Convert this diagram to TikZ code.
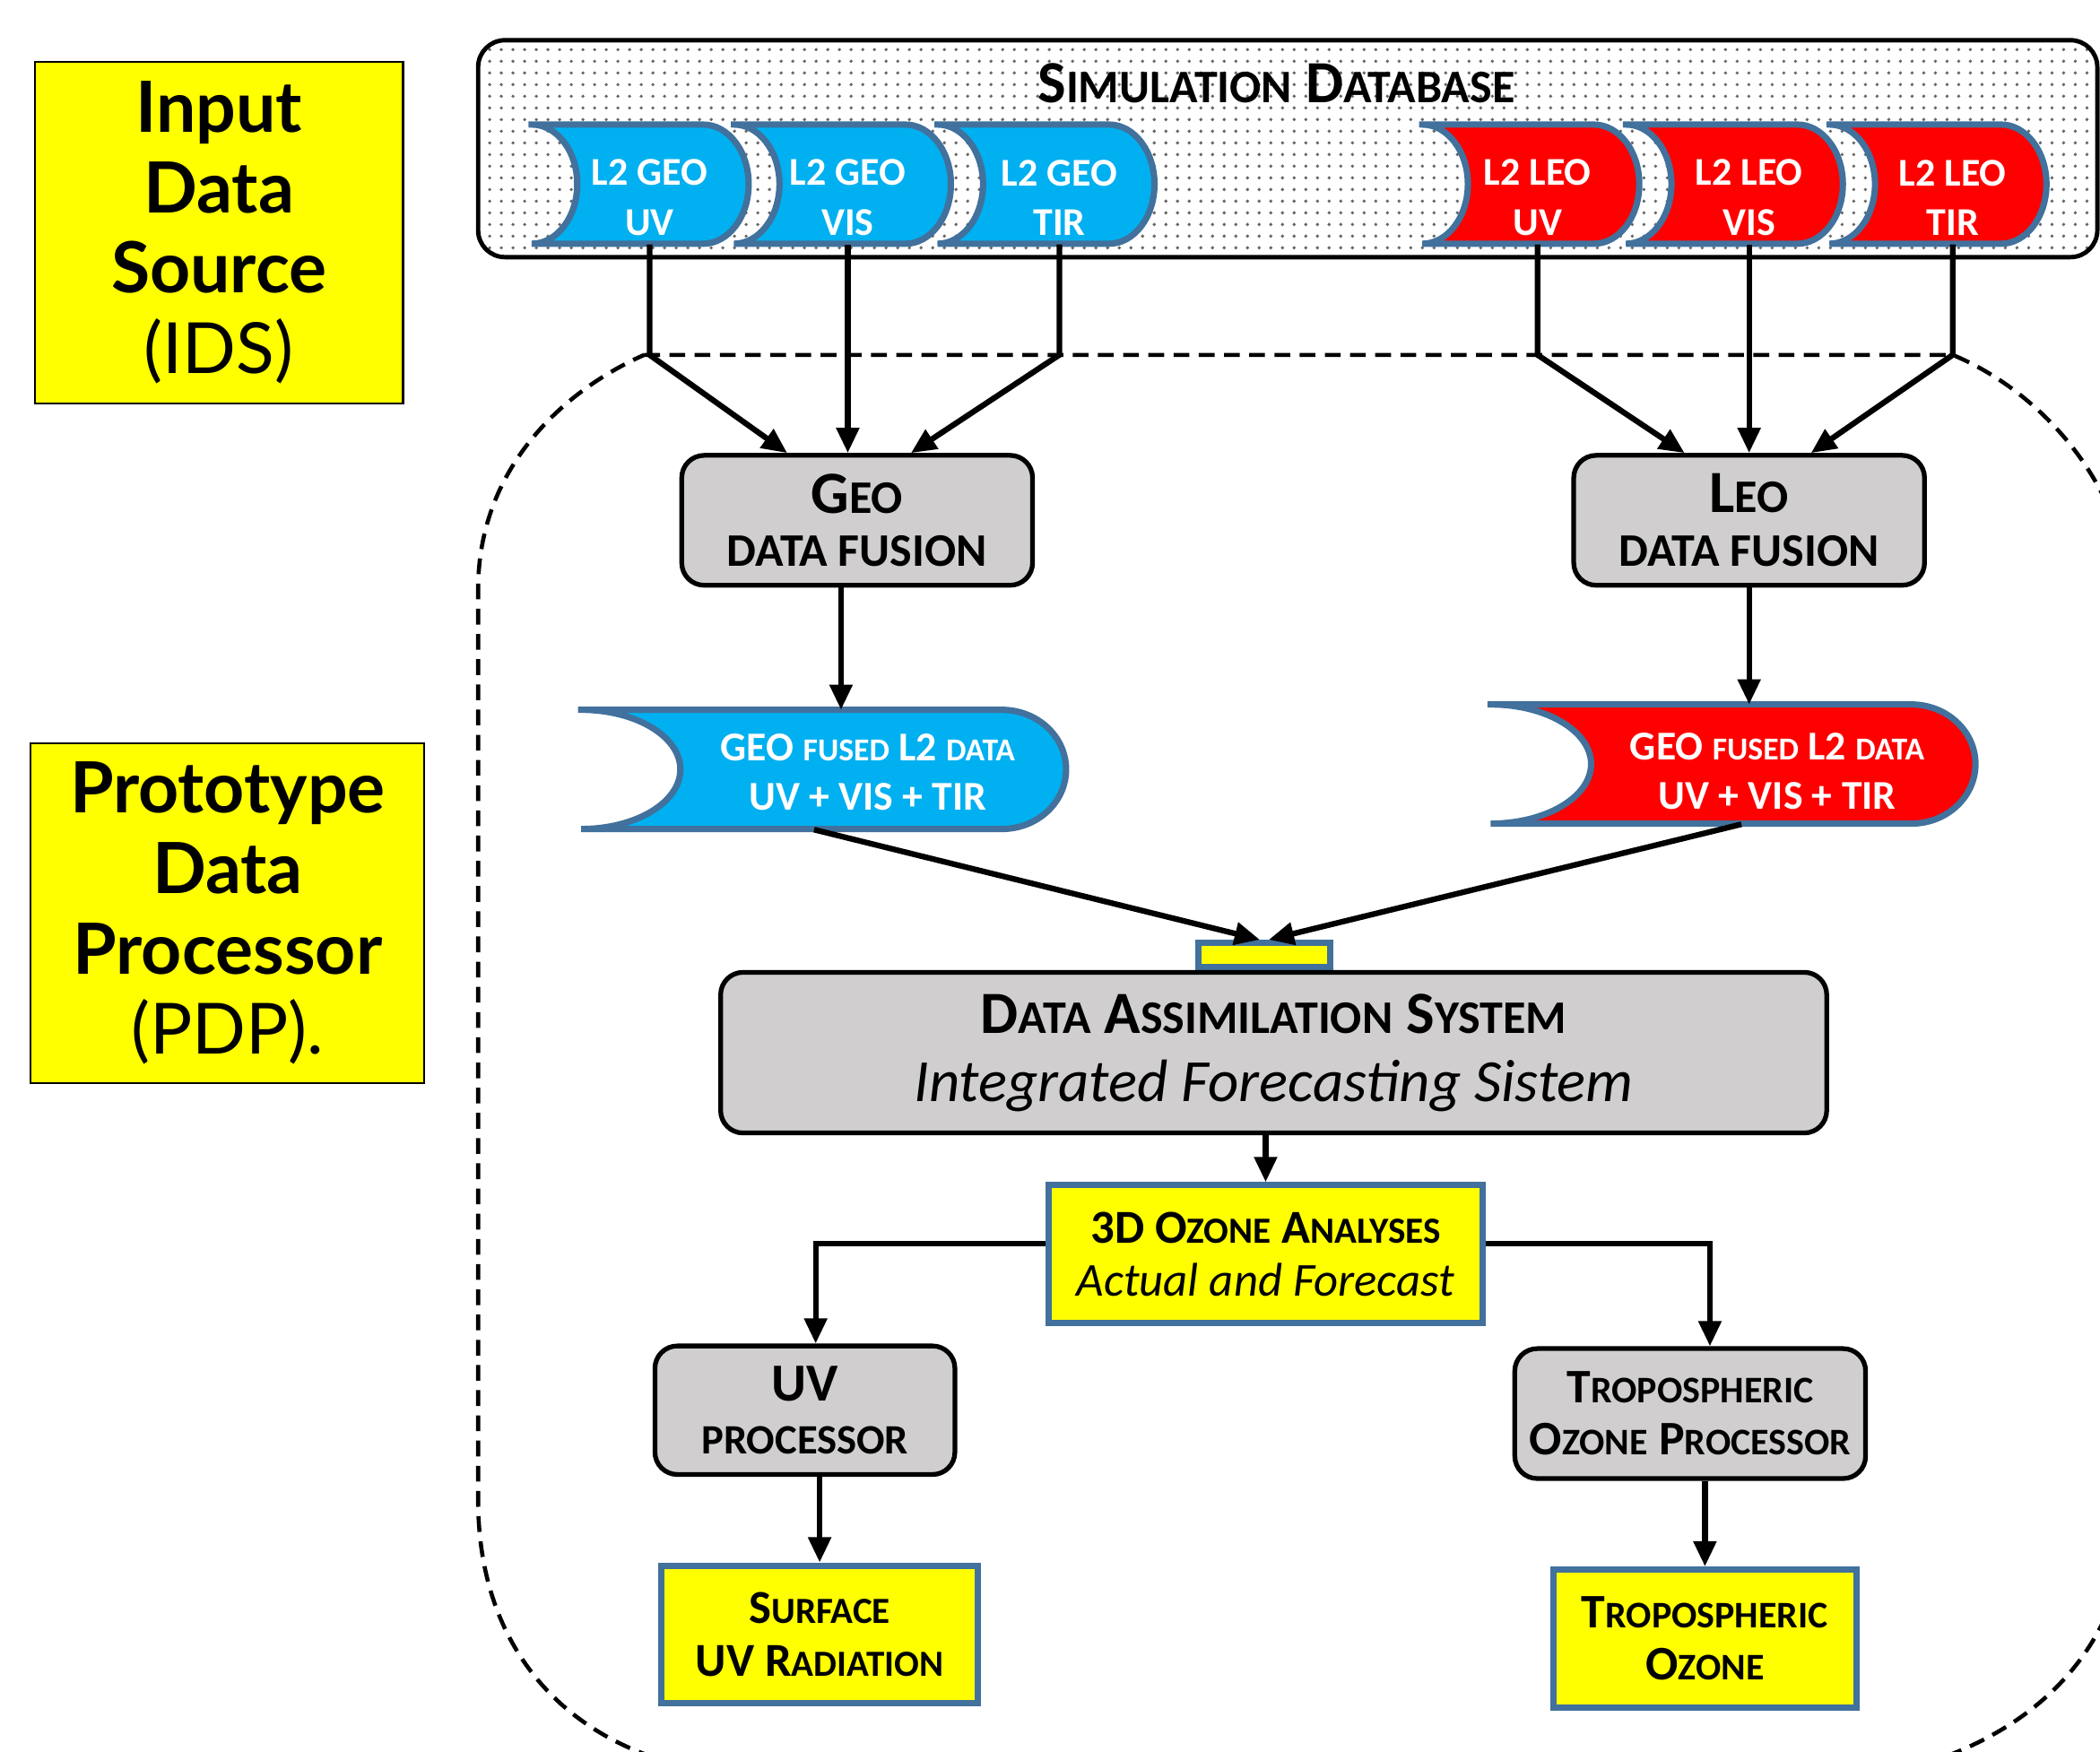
\documentclass[tikz,border=0pt]{standalone}
\usepackage{fontspec}
\setmainfont{Carlito}
\newfontfamily\gillfont{Lato}
\usepackage{graphicx}
\usetikzlibrary{arrows.meta,patterns}

\definecolor{geoblue}{HTML}{00B0F0}
\definecolor{leored}{HTML}{FF0000}
\definecolor{edgeblue}{HTML}{41719C}
\definecolor{boxgray}{HTML}{D0CECE}
\definecolor{noteyellow}{HTML}{FFFF00}

% fake small capitals
\newcommand{\sm}[1]{\scalebox{0.78}{#1}}

% sparser dots than the library pattern
\pgfdeclarepatternformonly{sparsedots}{\pgfqpoint{-1pt}{-1pt}}{\pgfqpoint{1pt}{1pt}}{\pgfqpoint{3.7pt}{3.7pt}}{\pgfpathcircle{\pgfqpoint{0pt}{0pt}}{.55pt}\pgfusepath{fill}}

\tikzset{
  sidebox/.style={draw=black, line width=0.6pt, fill=noteyellow, align=center, inner sep=0pt, font=\gillfont\fontsize{22.4}{25.5}\selectfont},
  graybox/.style={draw=black, line width=1.5pt, fill=boxgray, rounded corners=0.25cm, align=center, inner sep=0pt},
  yellowbox/.style={draw=edgeblue, line width=2pt, fill=noteyellow, align=center, inner sep=0pt},
  store/.style={draw=edgeblue, line width=2pt},
  storetext/.style={text=white, align=center, inner sep=0pt, font=\bfseries\fontsize{12.5}{15.7}\selectfont},
  conn/.style={line width=1.8pt, -{Triangle[length=8pt,width=7pt]}},
  pdpline/.style={line width=1.3pt, dash pattern=on 5pt off 3pt},
}

\begin{document}
\begin{tikzpicture}[x=0.014936cm, y=-0.014936cm]
\useasboundingbox (0,0) rectangle (1568,1308);

% side labels
\node[sidebox, minimum width=4.107cm, minimum height=3.809cm] (ids) at (163.5,173.5) {\textbf{Input}\\\textbf{Data}\\\textbf{Source}\\(IDS)};
\node[sidebox, minimum width=4.391cm, minimum height=3.794cm] (pdp) at (170,682) {\textbf{Prototype}\\\textbf{Data}\\\textbf{Processor}\\(PDP).};

% simulation database
\draw[line width=1.4pt, rounded corners=0.3cm, pattern=sparsedots, pattern color=black!60] (357,30) rectangle (1566,192);
\node[font=\bfseries\fontsize{19}{22}\selectfont] (simdb) at (953,62) {S\sm{IMULATION} D\sm{ATABASE}};

% L2 products
\foreach \xa/\xt/\col/\nm/\txt in {397/485/geoblue/guv/{L2 GEO\\UV}, 548/633/geoblue/gvis/{L2 GEO\\VIS}, 700/791/geoblue/gtir/{L2 GEO\\TIR}, 1062/1148/leored/luv/{L2 LEO\\UV}, 1214/1306/leored/lvis/{L2 LEO\\VIS}, 1366/1458/leored/ltir/{L2 LEO\\TIR}}{
  \draw[store, fill=\col] (\xa,93) -- ++(128,0) arc[start angle=-90, end angle=90, x radius=34, y radius=44.5] -- (\xa,182) arc[start angle=90, end angle=-90, x radius=34, y radius=44.5] -- cycle;
  \node[storetext, minimum height=1.031cm] (\nm) at (\xt,147.5) {\txt};
}

% dashed outline of the PDP
\coordinate (pdpnw) at (481,265);
\coordinate (pdpne) at (1458,265);
\draw[pdpline] (pdpnw) -- (pdpne) .. controls (1530,295) and (1590,370) .. (1590,450) -- (1590,1120) .. controls (1590,1230) and (1520,1290) .. (1440,1316) -- (500,1316) .. controls (410,1290) and (357,1220) .. (357,1120) -- (357,440) .. controls (357,350) and (420,292) .. (pdpnw);

% data fusion
\node[graybox, minimum width=3.913cm, minimum height=1.449cm, font=\bfseries\fontsize{19}{17}\selectfont] (geofus) at (640,388.5) {G\sm{EO}\\\sm{DATA FUSION}};
\node[graybox, minimum width=3.913cm, minimum height=1.449cm, font=\bfseries\fontsize{19}{17}\selectfont] (leofus) at (1306,388.5) {L\sm{EO}\\\sm{DATA FUSION}};

\draw[conn] (guv.south) -- (guv.south |- pdpnw) -- ([xshift=-0.78cm]geofus.north);
\draw[conn] (gvis.south) -- (gvis.south |- geofus.north);
\draw[conn] (gtir.south) -- (gtir.south |- pdpnw) -- ([xshift=0.6cm]geofus.north);
\draw[conn] (luv.south) -- (luv.south |- pdpne) -- ([xshift=-0.72cm]leofus.north);
\draw[conn] (lvis.south) -- (lvis.south |- leofus.north);
\draw[conn] (ltir.south) -- (pdpne) -- ([xshift=0.69cm]leofus.north);

% fused products
\coordinate (geotop) at (640,530);
\coordinate (leotop) at (1306,526);
\draw[store, fill=geoblue] (434,530) -- (748,530) arc[start angle=-90, end angle=90, x radius=48, y radius=44.5] -- (434,619) arc[start angle=90, end angle=-90, x radius=74, y radius=44.5] -- cycle;
\node[storetext, font=\bfseries\fontsize{13}{15.7}\selectfont, minimum height=1.27cm] (geofd) at (648,576.5) {GEO \sm{FUSED} L2 \sm{DATA}\\UV + VIS + TIR};
\draw[store, fill=leored] (1113,526) -- (1427,526) arc[start angle=-90, end angle=90, x radius=48, y radius=44.5] -- (1113,615) arc[start angle=90, end angle=-90, x radius=75, y radius=44.5] -- cycle;
\node[storetext, font=\bfseries\fontsize{13}{15.7}\selectfont, minimum height=1.165cm] (leofd) at (1327,576) {GEO \sm{FUSED} L2 \sm{DATA}\\UV + VIS + TIR};

\coordinate (geoarr) at ([xshift=-0.18cm]geofus.south);
\draw[conn] (geoarr) -- (geoarr |- geotop);
\draw[conn] (leofus.south) -- (leofus.south |- leotop);

% assimilation
\node[yellowbox, minimum width=1.464cm, minimum height=0.269cm] (hub) at (944,713) {};
\node[graybox, minimum width=12.337cm, minimum height=1.792cm, font=\fontsize{19}{21.7}\selectfont] (das) at (951,786) {{\bfseries D\sm{ATA} A\sm{SSIMILATION} S\sm{YSTEM}}\\\textit{Integrated Forecasting Sistem}};

\draw[conn] ([xshift=-0.6cm]geofd.south) -- ([xshift=-0.05cm]hub.north);
\draw[conn] ([xshift=-0.4cm]leofd.south) -- ([xshift=0.05cm]hub.north);

\node[yellowbox, minimum width=4.839cm, minimum height=1.538cm, font=\fontsize{15}{16.6}\selectfont] (ozone) at (945,936.5) {{\bfseries 3D O\sm{ZONE} A\sm{NALYSES}}\\\textit{Actual and Forecast}};
\draw[conn] (das.south -| ozone.north) -- (ozone.north);

% processors and products
\node[graybox, minimum width=3.346cm, minimum height=1.434cm, font=\bfseries\fontsize{17}{17}\selectfont] (uvproc) at (601,1053) {UV\\\sm{PROCESSOR}};
\node[graybox, minimum width=3.913cm, minimum height=1.449cm, font=\bfseries\fontsize{15.3}{16.6}\selectfont] (tropproc) at (1262,1055.5) {T\sm{ROPOSPHERIC}\\O\sm{ZONE} P\sm{ROCESSOR}};

\draw[conn] ([yshift=0.12cm]ozone.west) -| ([xshift=0.12cm]uvproc.north);
\draw[conn] ([yshift=0.12cm]ozone.east) -| ([xshift=0.22cm]tropproc.north);

\node[yellowbox, minimum width=3.525cm, minimum height=1.538cm, font=\bfseries\fontsize{15}{16.6}\selectfont] (surfuv) at (612,1220.5) {S\sm{URFACE}\\UV R\sm{ADIATION}};
\node[yellowbox, minimum width=3.376cm, minimum height=1.538cm, font=\bfseries\fontsize{15.3}{16.6}\selectfont] (tropoz) at (1273,1223.5) {T\sm{ROPOSPHERIC}\\O\sm{ZONE}};

\draw[conn] (uvproc.south -| surfuv.north) -- (surfuv.north);
\draw[conn] (tropproc.south -| tropoz.north) -- (tropoz.north);
\end{tikzpicture}
\end{document}
